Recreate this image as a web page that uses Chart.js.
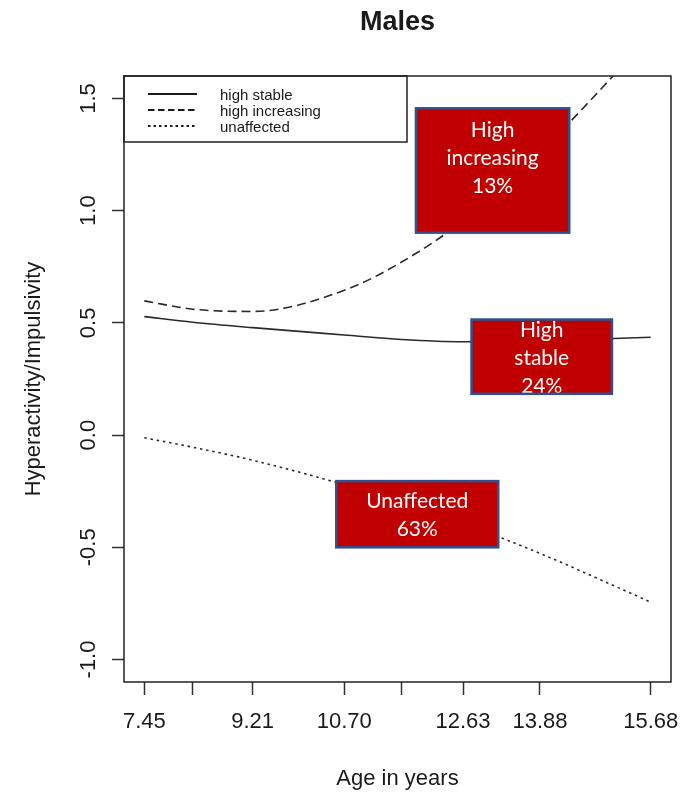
<!DOCTYPE html>
<html>
<head>
<meta charset="utf-8">
<style>
  html, body { margin: 0; padding: 0; background: #ffffff; }
  #wrap { width: 682px; height: 795px; position: relative; }
</style>
<script src="https://cdn.jsdelivr.net/npm/chart.js@4/dist/chart.umd.min.js"></script>
</head>
<body>
<div id="wrap"><canvas id="c" width="682" height="795"></canvas></div>
<script>
// Assessment ages (years) and the axis labels shown under them
const ages = [7.45, 8.24, 9.21, 10.70, 11.63, 12.63, 13.88, 15.68];
const ageTickLabels = ['7.45', '', '9.21', '10.70', '', '12.63', '13.88', '15.68'];

// Estimated trajectory of each group at those ages
const highStable     = [0.528, 0.503, 0.479, 0.446, 0.426, 0.416, 0.421, 0.436];
const highIncreasing = [0.598, 0.561, 0.551, 0.645, 0.771, 0.955, 1.26, 1.78];
const unaffected     = [-0.012, -0.054, -0.112, -0.221, -0.300, -0.393, -0.527, -0.744];

// Vertical axis ticks
const yTicks = [-1.0, -0.5, 0.0, 0.5, 1.0, 1.5];
const yTickLabels = ['-1.0', '-0.5', '0.0', '0.5', '1.0', '1.5'];

// Group names and shares of the sample
const seriesNames = ['high stable', 'high increasing', 'unaffected'];
const groupShares = ['24%', '13%', '63%'];

const AXIS_FONT = '"Liberation Sans", Arial, Helvetica, sans-serif';
const BOX_FONT = 'Lato, "Open Sans", sans-serif';
const INK = '#1a1a1a';
const LINE_INK = '#2a2a2a';

const dashPatterns = [[], [9, 5], [2.5, 3.8]];
const legendDash = [[], [6.5, 3.5], [2.5, 3]];

// Callout boxes, given as age / score extents
const callouts = [
  { lines: ['High', 'increasing', groupShares[1], ''], x0: 11.865, x1: 14.356, y0: 1.456, y1: 0.902 },
  { lines: ['High', 'stable', groupShares[0]],          x0: 12.768, x1: 15.050, y0: 0.515, y1: 0.184 },
  { lines: ['Unaffected', groupShares[2]],              x0: 10.570, x1: 13.202, y0: -0.205, y1: -0.500 }
];

function pts(values) {
  return ages.map((a, i) => ({ x: a, y: values[i] }));
}

const decor = {
  id: 'decor',
  afterDatasetsDraw(chart) {
    const { ctx, scales: { x, y } } = chart;

    // red callout boxes
    callouts.forEach(c => {
      const left = x.getPixelForValue(c.x0), right = x.getPixelForValue(c.x1);
      const top = y.getPixelForValue(c.y0), bottom = y.getPixelForValue(c.y1);
      ctx.save();
      ctx.fillStyle = '#c00000';
      ctx.fillRect(left, top, right - left, bottom - top);
      ctx.fillStyle = '#ffffff';
      ctx.font = '21px ' + BOX_FONT;
      ctx.textAlign = 'center';
      ctx.textBaseline = 'middle';
      const lh = 28;
      const cx = (left + right) / 2;
      const cy = (top + bottom) / 2 + 1.5;
      const startY = cy - (c.lines.length - 1) * lh / 2;
      c.lines.forEach((t, i) => ctx.fillText(t, cx, startY + i * lh));
      ctx.strokeStyle = '#2f528f';
      ctx.lineWidth = 2.5;
      ctx.strokeRect(left, top, right - left, bottom - top);
      ctx.restore();
    });

    // legend box in the top-left corner of the plot
    const area = chart.chartArea;
    const lx = area.left, ly = area.top, lw = 283, lhgt = 66;
    ctx.save();
    ctx.fillStyle = '#ffffff';
    ctx.fillRect(lx, ly, lw, lhgt);
    ctx.strokeStyle = '#222';
    ctx.lineWidth = 1.5;
    ctx.strokeRect(lx, ly, lw, lhgt);
    const rows = [18, 34, 50];
    seriesNames.forEach((name, i) => {
      ctx.beginPath();
      ctx.setLineDash(legendDash[i]);
      ctx.strokeStyle = '#1a1a1a';
      ctx.lineWidth = 1.8;
      ctx.moveTo(lx + 24, ly + rows[i]);
      ctx.lineTo(lx + 73, ly + rows[i]);
      ctx.stroke();
      ctx.setLineDash([]);
      ctx.fillStyle = INK;
      ctx.font = '15px ' + AXIS_FONT;
      ctx.textAlign = 'left';
      ctx.textBaseline = 'middle';
      ctx.fillText(name, lx + 96, ly + rows[i] + 1.5);
    });
    ctx.restore();
  },
  afterDraw(chart) {
    const { ctx, scales: { y } } = chart;
    const area = chart.chartArea;
    ctx.save();
    // plot frame
    ctx.strokeStyle = '#222';
    ctx.lineWidth = 1.5;
    ctx.strokeRect(area.left, area.top, area.right - area.left, area.bottom - area.top);

    // rotated vertical-axis tick labels
    ctx.fillStyle = INK;
    ctx.font = '22px ' + AXIS_FONT;
    ctx.textAlign = 'center';
    ctx.textBaseline = 'middle';
    yTicks.forEach((v, i) => {
      const py = y.getPixelForValue(v);
      ctx.save();
      ctx.translate(89, py);
      ctx.rotate(-Math.PI / 2);
      ctx.fillText(yTickLabels[i], 0, 0);
      ctx.restore();
    });

    // main title
    ctx.font = 'bold 27px ' + AXIS_FONT;
    ctx.fillText('Males', (area.left + area.right) / 2, 23);
    ctx.restore();
  }
};

const datasets = [highStable, highIncreasing, unaffected].map((vals, i) => ({
  label: seriesNames[i],
  data: pts(vals),
  borderColor: LINE_INK,
  borderWidth: 1.6,
  borderDash: dashPatterns[i],
  pointRadius: 0,
  fill: false,
  cubicInterpolationMode: 'monotone'
}));

new Chart(document.getElementById('c').getContext('2d'), {
  type: 'line',
  data: { datasets },
  options: {
    responsive: false,
    animation: false,
    devicePixelRatio: 1,
    layout: { padding: { top: 76, right: 11, left: 0, bottom: 0 } },
    plugins: {
      legend: { display: false },
      tooltip: { enabled: false },
      title: { display: false }
    },
    scales: {
      x: {
        type: 'linear',
        min: 7.12,
        max: 16.01,
        afterBuildTicks: s => { s.ticks = ages.map(v => ({ value: v })); },
        afterFit: s => { s.height = 113; s.paddingLeft = 0; s.paddingRight = 0; },
        ticks: {
          autoSkip: false,
          maxRotation: 0,
          minRotation: 0,
          padding: 14,
          color: INK,
          font: { family: AXIS_FONT, size: 22 },
          callback: (v, i) => ageTickLabels[i]
        },
        grid: { drawOnChartArea: false, drawTicks: true, tickLength: 13, tickWidth: 1.5, tickColor: '#333' },
        border: { display: false },
        title: {
          display: true,
          text: 'Age in years',
          color: INK,
          font: { family: AXIS_FONT, size: 22 },
          padding: { top: 0, bottom: 3 }
        }
      },
      y: {
        type: 'linear',
        min: -1.1,
        max: 1.6,
        afterBuildTicks: s => { s.ticks = yTicks.map(v => ({ value: v })); },
        afterFit: s => { s.width = 124; },
        ticks: { display: false },
        grid: { drawOnChartArea: false, drawTicks: true, tickLength: 12, tickWidth: 1.5, tickColor: '#333' },
        border: { display: false },
        title: {
          display: true,
          text: 'Hyperactivity/Impulsivity',
          color: INK,
          font: { family: AXIS_FONT, size: 22 },
          padding: { top: 21, bottom: 0 }
        }
      }
    }
  },
  plugins: [decor]
});
</script>
</body>
</html>
